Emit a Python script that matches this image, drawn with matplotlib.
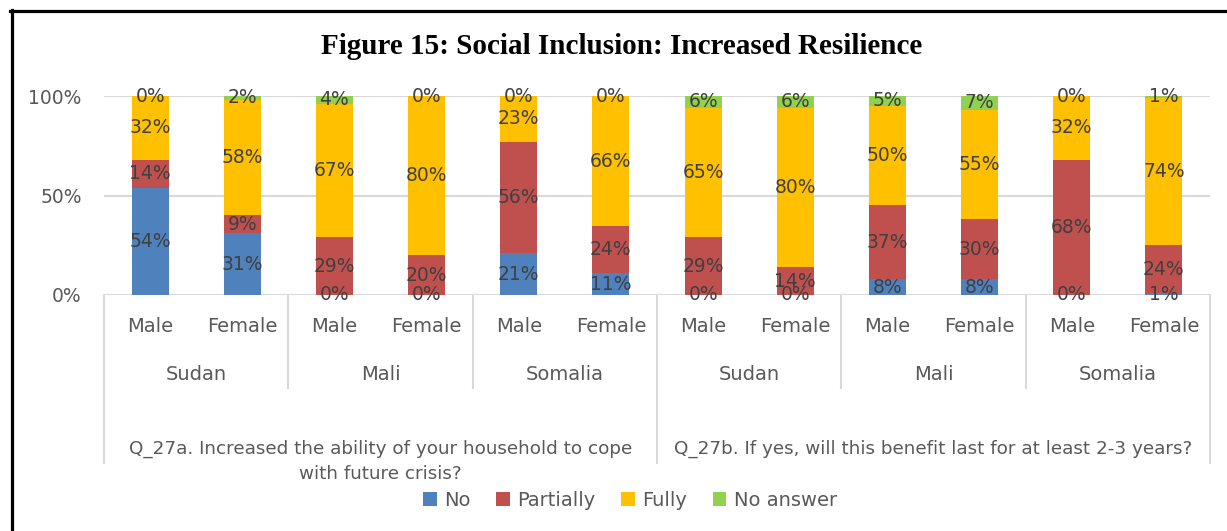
import numpy as np
import matplotlib
matplotlib.use('Agg')
import matplotlib.pyplot as plt
from matplotlib.lines import Line2D
from matplotlib.patches import Patch
import matplotlib.transforms as mtransforms

# data (percent, as labelled)
genders = ["Male", "Female"] * 6
countries = ["Sudan", "Mali", "Somalia", "Sudan", "Mali", "Somalia"]
questions = ["Q_27a. Increased the ability of your household to cope\nwith future crisis?",
             "Q_27b. If yes, will this benefit last for at least 2-3 years?"]
series = ["No", "Partially", "Fully", "No answer"]
no = [54, 31, 0, 0, 21, 11, 0, 0, 8, 8, 0, 1]
partially = [14, 9, 29, 20, 56, 24, 29, 14, 37, 30, 68, 24]
fully = [32, 58, 67, 80, 23, 66, 65, 80, 50, 55, 32, 74]
no_answer = [0, 2, 4, 0, 0, 0, 6, 6, 5, 7, 0, 1]
colors = ["#4F81BD", "#C0504D", "#FFC000", "#92D050"]

plt.rcParams['font.family'] = ['DejaVu Sans']
fig = plt.figure(figsize=(12.27, 5.31), dpi=100)
ax = fig.add_axes([104 / 1227, 1 - 295 / 531, (1210 - 104) / 1227, 199 / 531])

# 100% stacked, like excel
data = np.array([no, partially, fully, no_answer], dtype=float)
totals = data.sum(axis=0)
x = np.arange(len(genders))
bottom = np.zeros(len(x))
for name, vals, c in zip(series, data, colors):
    h = vals / totals * 100
    bars = ax.bar(x, h, 0.4, bottom=bottom, color=c, label=name, zorder=2)
    ax.bar_label(bars, labels=[f"{int(v)}%" for v in vals], label_type='center',
                 fontsize=13.5, color='#404040')
    bottom += h

ax.set_xlim(-0.5, len(x) - 0.5)
ax.set_ylim(0, 100)
ax.set_yticks([0, 50, 100])
ax.set_yticklabels(["0%", "50%", "100%"], fontsize=13.5, color='#595959')
ax.tick_params(axis='y', length=0, pad=16)
ax.set_xticks([])
for s in ax.spines.values():
    s.set_visible(False)
ax.grid(axis='y', color='#d9d9d9', linewidth=1.5, zorder=0)
ax.axhline(0, color='#d9d9d9', linewidth=1.5, zorder=1)

# multi-level category axis
trans = mtransforms.blended_transform_factory(ax.transData, ax.transAxes)
for i, g in enumerate(genders):
    ax.text(i, -0.16, g, transform=trans, ha='center', va='center',
            fontsize=14, color='#595959')
for j, c in enumerate(countries):
    ax.text(2 * j + 0.5, -0.397, c, transform=trans, ha='center', va='center',
            fontsize=14, color='#595959')
for k, q in enumerate(questions):
    ax.text(6 * k + 2.5, -0.725, q, transform=trans, ha='center', va='top',
            fontsize=13.2, color='#595959', linespacing=1.55)
for b in range(7):
    xb = 2 * b - 0.5
    ybot = -0.844 if b % 3 == 0 else -0.467
    ax.add_line(Line2D([xb, xb], [0, ybot], transform=trans, color='#d9d9d9',
                       linewidth=1.5, clip_on=False))

fig.text(622 / 1227, 1 - 47 / 531, "Figure 15: Social Inclusion: Increased Resilience",
         ha='center', va='center', fontsize=21, fontweight='bold',
         family='Liberation Serif')

handles = [Patch(facecolor=c, label=s) for s, c in zip(series, colors)]
fig.legend(handles=handles, loc='center', bbox_to_anchor=(630 / 1227, 1 - 500 / 531),
           ncol=4, frameon=False, fontsize=14, handlelength=0.7, handleheight=0.7,
           handletextpad=0.4, columnspacing=1.3, labelcolor='#595959')

# outer frame (left and top)
fig.add_artist(Line2D([11.5 / 1227, 11.5 / 1227], [0, 1 - 10 / 531], color='black',
                      linewidth=2.3, transform=fig.transFigure))
fig.add_artist(Line2D([10 / 1227, 1], [1 - 10.5 / 531, 1 - 10.5 / 531], color='black',
                      linewidth=2.3, transform=fig.transFigure))

fig.savefig("out.png", dpi=100)
